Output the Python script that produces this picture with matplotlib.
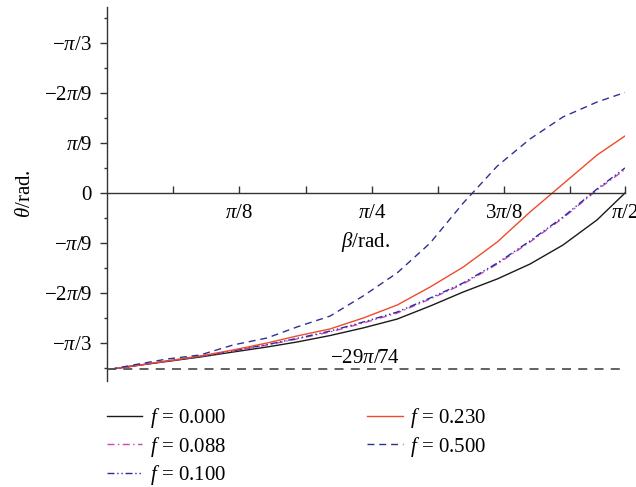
import numpy as np
import matplotlib
matplotlib.use('Agg')
import matplotlib.pyplot as plt

# beta (rad) sample points and theta (rad) for each value of f
beta = [0.009, 0.077, 0.178, 0.276, 0.374, 0.475, 0.564, 0.662, 0.760, 0.861,
        0.959, 1.057, 1.158, 1.255, 1.353, 1.454, 1.537]

theta_000 = [-1.231, -1.208, -1.176, -1.145, -1.110, -1.075, -1.040, -0.995, -0.942,
             -0.880, -0.789, -0.691, -0.600, -0.496, -0.363, -0.188, 0.000]
theta_088 = [-1.231, -1.208, -1.173, -1.141, -1.103, -1.061, -1.019, -0.970, -0.908,
             -0.838, -0.740, -0.635, -0.496, -0.342, -0.175, 0.021, 0.164]
theta_100 = [-1.231, -1.208, -1.173, -1.141, -1.101, -1.058, -1.015, -0.964, -0.901,
             -0.831, -0.733, -0.628, -0.489, -0.335, -0.168, 0.028, 0.175]
theta_230 = [-1.231, -1.208, -1.173, -1.138, -1.096, -1.047, -0.998, -0.949, -0.873,
             -0.782, -0.656, -0.517, -0.342, -0.133, 0.063, 0.265, 0.398]
theta_500 = [-1.231, -1.201, -1.159, -1.131, -1.061, -1.012, -0.935, -0.859, -0.719,
             -0.558, -0.349, -0.070, 0.188, 0.377, 0.531, 0.635, 0.702]

labels = ['$f$ = 0.000', '$f$ = 0.088', '$f$ = 0.100', '$f$ = 0.230', '$f$ = 0.500']

theta_limit = -29 * np.pi / 74
beta_end = 1.537

ytick_vals = [np.pi / 3, 2 * np.pi / 9, np.pi / 9, 0, -np.pi / 9, -2 * np.pi / 9, -np.pi / 3]
ytick_text = [r'$-\pi/3$', r'$-2\pi/9$', r'$\pi/9$', '0', r'$-\pi/9$', r'$-2\pi/9$', r'$-\pi/3$']
xtick_vals = [np.pi / 8, np.pi / 4, 3 * np.pi / 8, beta_end]
xtick_text = [r'$\pi/8$', r'$\pi/4$', r'$3\pi/8$', r'$\pi/2$']

plt.rcParams['font.family'] = 'Liberation Serif'
plt.rcParams['mathtext.fontset'] = 'custom'
plt.rcParams['mathtext.rm'] = 'Liberation Serif'
plt.rcParams['mathtext.it'] = 'Liberation Serif:italic'
plt.rcParams['mathtext.bf'] = 'Liberation Serif:bold'

fs = 15

fig = plt.figure(figsize=(6.36, 4.87), dpi=100)
ax = fig.add_axes([107 / 636, 1 - 381 / 487, (625 - 107) / 636, (381 - 7) / 487])

ax.plot(beta, theta_000, color='#1a1a1a', lw=1.0, label=labels[0])
ax.plot(beta, theta_088, color='#c845b8', lw=1.0, ls=(0, (5, 2.5, 1, 2.5)), label=labels[1])
ax.plot(beta, theta_100, color='#2b2ba6', lw=1.0, ls=(0, (5, 2, 1, 2, 1, 2)), label=labels[2])
ax.plot(beta, theta_230, color='#f04a2c', lw=1.0, label=labels[3])
ax.plot(beta, theta_500, color='#2e3192', lw=1.0, ls=(0, (5, 3.5)), label=labels[4])

# lower bound of theta
ax.axhline(theta_limit, color='#555555', lw=1.3, ls=(0, (5, 4)))
ax.text(0.766, -1.152, r'$-29\pi/74$', ha='center', va='center', fontsize=fs)

ax.set_xlim(0, beta_end)
ax.set_ylim(-1.3124, 1.2985)

for s in ['top', 'right']:
    ax.spines[s].set_visible(False)
ax.spines['bottom'].set_position(('data', 0))
for s in ['left', 'bottom']:
    ax.spines[s].set_linewidth(1.0)
    ax.spines[s].set_color('#333333')

ax.set_yticks(ytick_vals)
ax.set_yticklabels(ytick_text)
ax.set_yticks([k * np.pi / 18 for k in (-7, -5, -3, -1, 1, 3, 5, 7)], minor=True)
ax.set_xticks(xtick_vals)
ax.set_xticklabels(xtick_text)
ax.set_xticks([np.pi / 16, 3 * np.pi / 16, 5 * np.pi / 16, 7 * np.pi / 16], minor=True)

ax.tick_params(axis='y', which='major', direction='out', length=5, width=1.0,
               pad=6, labelsize=fs, color='#333333')
ax.tick_params(axis='y', which='minor', direction='out', length=2.5, width=1.0, color='#333333')
ax.tick_params(axis='x', which='both', direction='in', length=5, width=1.0,
               pad=8, labelsize=fs, color='#333333')

ax.set_xlabel(r'$\beta$/rad.', fontsize=fs, labelpad=5)
ax.set_ylabel(r'$\theta$/rad.', fontsize=fs, labelpad=6)

fig.legend(loc='upper left', bbox_to_anchor=(107 / 636, 1 - 406 / 487), ncol=2,
           frameon=False, fontsize=fs, borderpad=0, borderaxespad=0,
           handlelength=1.7, handletextpad=0.35, columnspacing=6.8, labelspacing=0.22)

fig.savefig('out.png', dpi=100)
